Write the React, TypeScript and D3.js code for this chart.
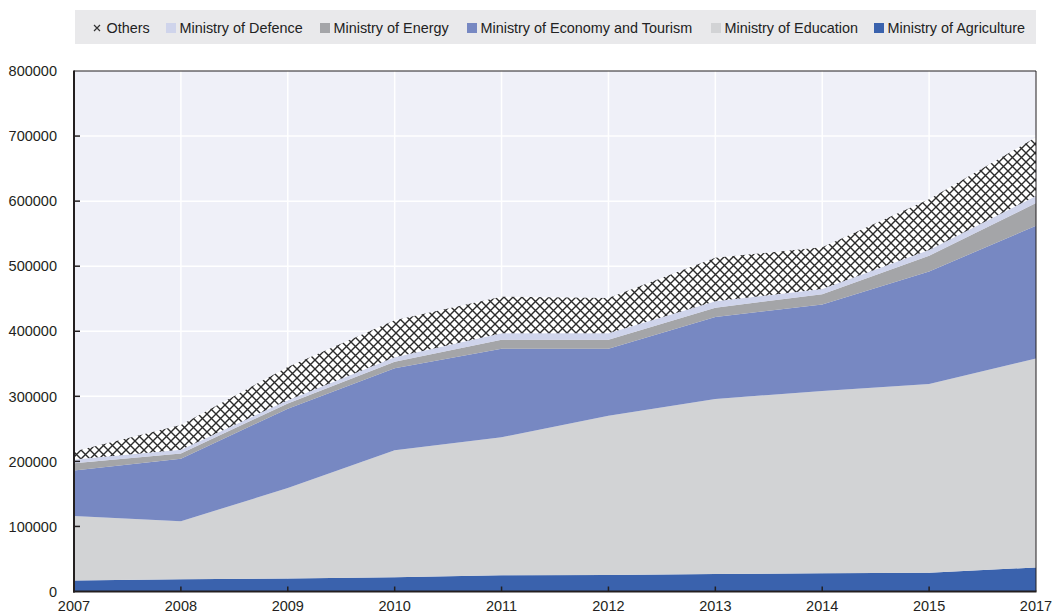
import React from 'react';
import * as d3 from 'd3';

// categories (note: 2016 is not in the source data)
const years = ['2007', '2008', '2009', '2010', '2011', '2012', '2013', '2014', '2015', '2017'];

// series values
const agriculture = [17000, 19000, 20000, 22000, 25000, 25500, 27000, 28000, 29000, 37000];
const education = [99000, 89000, 139000, 195000, 212000, 244500, 269000, 280000, 290000, 321000];
const economy = [70000, 96000, 122000, 126000, 136000, 103000, 126000, 133000, 173000, 204000];
const energy = [11000, 8000, 8000, 10000, 14000, 14000, 14000, 16000, 24000, 35000];
const defence = [6000, 6000, 5000, 7000, 10000, 10000, 10000, 8000, 9000, 11000];
const others = [12000, 38000, 51000, 57000, 56000, 54000, 67000, 64000, 78000, 90000];

const yTicks = [0, 100000, 200000, 300000, 400000, 500000, 600000, 700000, 800000];

const seriesKeys = ['agriculture', 'education', 'economy', 'energy', 'defence', 'others'];
const seriesFill: Record<string, string> = {
  agriculture: '#3a62ad',
  education: '#d2d3d5',
  economy: '#7788c2',
  energy: '#a4a5a8',
  defence: '#cfd4eb',
  others: 'url(#xhatch)',
};

const legendItems = [
  { key: 'others', label: 'Others', x: 94 },
  { key: 'defence', label: 'Ministry of Defence', x: 166 },
  { key: 'energy', label: 'Ministry of Energy', x: 320 },
  { key: 'economy', label: 'Ministry of Economy and Tourism', x: 467 },
  { key: 'education', label: 'Ministry of Education', x: 711 },
  { key: 'agriculture', label: 'Ministry of Agriculture', x: 874 },
];

const W = 1053, H = 613;
const margin = { top: 71, right: 17, bottom: 21.5, left: 74 };
const font = '"Liberation Sans", Arial, sans-serif';
const ink = '#231f20';
const hatch = 9;

export default function App() {
  const table = years.map((y, i) => ({
    year: y,
    agriculture: agriculture[i],
    education: education[i],
    economy: economy[i],
    energy: energy[i],
    defence: defence[i],
    others: others[i],
  }));

  const x = d3.scalePoint<string>().domain(years).range([margin.left, W - margin.right]);
  const y = d3.scaleLinear().domain([0, 800000]).range([H - margin.bottom, margin.top]);

  const stacked = d3.stack<any>().keys(seriesKeys)(table);
  const area = d3.area<any>()
    .x((d) => x(d.data.year) as number)
    .y0((d) => y(d[0]))
    .y1((d) => y(d[1]));

  const x0 = margin.left, x1 = W - margin.right;
  const yTop = margin.top, yBot = H - margin.bottom;

  return (
    <svg width={W} height={H} style={{ position: 'absolute', left: 0, top: 0 }} fontFamily={font}>
      <defs>
        <pattern id="xhatch" patternUnits="userSpaceOnUse" width={hatch} height={hatch}>
          <rect width={hatch} height={hatch} fill="#ffffff" />
          <path d={`M0,0L${hatch},${hatch}M${hatch},0L0,${hatch}`} stroke="#2b2b2b" strokeWidth={1.4} />
        </pattern>
      </defs>

      {/* legend band */}
      <rect x={75} y={10} width={961} height={34} fill="#e9e9eb" />
      {legendItems.map((it) => (
        <g key={it.key}>
          {it.key === 'others' ? (
            <path
              d={`M${it.x},${25}l6,6M${it.x + 6},${25}l-6,6`}
              stroke="#333"
              strokeWidth={1.2}
            />
          ) : (
            <rect x={it.x} y={23} width={10} height={10} fill={seriesFill[it.key]} />
          )}
          <text x={it.x + (it.key === 'others' ? 12.5 : 13.5)} y={33} fontSize={14.4} fill="#222">
            {it.label}
          </text>
        </g>
      ))}

      {/* plot background and grid */}
      <rect x={x0} y={yTop} width={x1 - x0} height={yBot - yTop} fill="#eff0f8" />
      {yTicks.slice(1, -1).map((t) => (
        <line key={t} x1={x0} x2={x1} y1={y(t)} y2={y(t)} stroke="#ffffff" strokeWidth={1.5} />
      ))}
      {years.slice(1, -1).map((yr) => (
        <line key={yr} x1={x(yr)} x2={x(yr)} y1={yTop} y2={yBot} stroke="#ffffff" strokeWidth={1.5} />
      ))}

      {/* stacked areas */}
      {stacked.map((s) => (
        <path key={s.key} d={area(s) as string} fill={seriesFill[s.key]} />
      ))}

      {/* frame */}
      <line x1={x0} x2={x1} y1={yTop} y2={yTop} stroke={ink} strokeWidth={1} />
      <line x1={x1} x2={x1} y1={yTop} y2={yBot} stroke={ink} strokeWidth={1} />
      <line x1={x0} x2={x0} y1={yTop - 0.5} y2={yBot + 1} stroke={ink} strokeWidth={2} />
      <line x1={x0 - 1} x2={x1 + 0.5} y1={yBot} y2={yBot} stroke={ink} strokeWidth={2} />

      {/* y axis */}
      {yTicks.map((t) => (
        <g key={t}>
          {t > 0 && t < 800000 && (
            <line x1={x0} x2={x0 + 6} y1={y(t)} y2={y(t)} stroke={ink} strokeWidth={1.5} />
          )}
          <text x={57} y={y(t)} dy="0.36em" textAnchor="end" fontSize={14.5} fill={ink}>
            {t}
          </text>
        </g>
      ))}

      {/* x axis */}
      {years.map((yr, i) => (
        <g key={yr}>
          {i > 0 && i < years.length - 1 && (
            <line x1={x(yr)} x2={x(yr)} y1={yBot} y2={yBot - 5} stroke={ink} strokeWidth={1.5} />
          )}
          <text x={x(yr)} y={611} textAnchor="middle" fontSize={14.5} fill={ink}>
            {yr}
          </text>
        </g>
      ))}
    </svg>
  );
}
